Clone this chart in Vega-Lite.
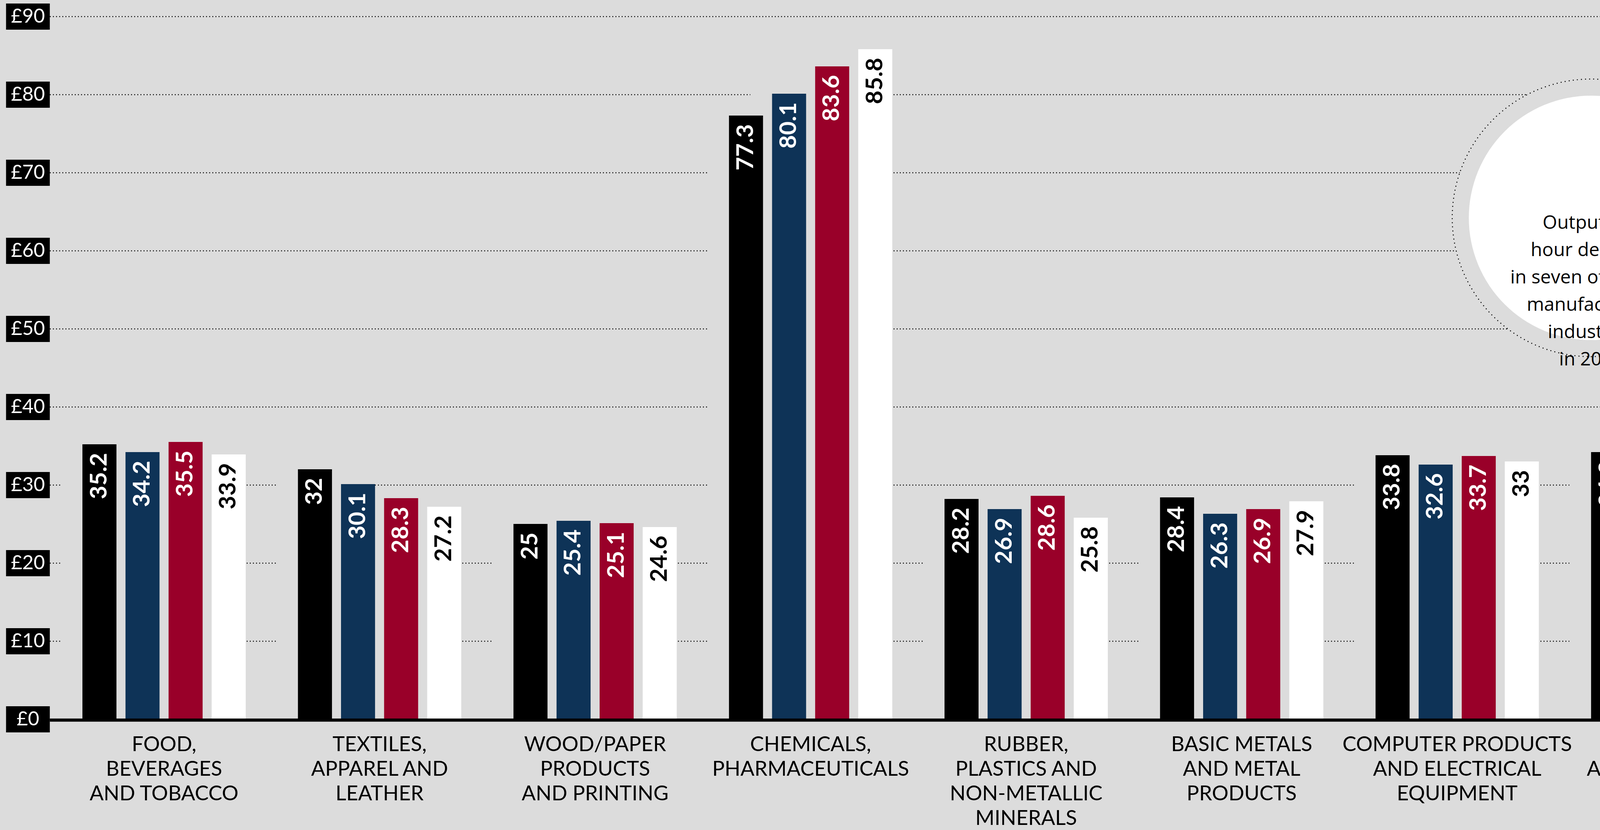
{
  "$schema": "https://vega.github.io/schema/vega-lite/v6.json",
  "width": 5579,
  "height": 1800,
  "autosize": {"type": "none"},
  "padding": {"left": 127, "top": 42, "right": 0, "bottom": 284},
  "background": "#dcdcdc",
  "config": {"view": {"stroke": null}, "font": "Lato"},
  "data": {
    "values": [
      {"cat": "FOOD,|BEVERAGES|AND TOBACCO", "year": "2012", "value": 35.2},
      {"cat": "FOOD,|BEVERAGES|AND TOBACCO", "year": "2013", "value": 34.2},
      {"cat": "FOOD,|BEVERAGES|AND TOBACCO", "year": "2014", "value": 35.5},
      {"cat": "FOOD,|BEVERAGES|AND TOBACCO", "year": "2015", "value": 33.9},
      {"cat": "TEXTILES,|APPAREL AND|LEATHER", "year": "2012", "value": 32},
      {"cat": "TEXTILES,|APPAREL AND|LEATHER", "year": "2013", "value": 30.1},
      {"cat": "TEXTILES,|APPAREL AND|LEATHER", "year": "2014", "value": 28.3},
      {"cat": "TEXTILES,|APPAREL AND|LEATHER", "year": "2015", "value": 27.2},
      {"cat": "WOOD/PAPER|PRODUCTS|AND PRINTING", "year": "2012", "value": 25},
      {"cat": "WOOD/PAPER|PRODUCTS|AND PRINTING", "year": "2013", "value": 25.4},
      {"cat": "WOOD/PAPER|PRODUCTS|AND PRINTING", "year": "2014", "value": 25.1},
      {"cat": "WOOD/PAPER|PRODUCTS|AND PRINTING", "year": "2015", "value": 24.6},
      {"cat": "CHEMICALS,|PHARMACEUTICALS", "year": "2012", "value": 77.3},
      {"cat": "CHEMICALS,|PHARMACEUTICALS", "year": "2013", "value": 80.1},
      {"cat": "CHEMICALS,|PHARMACEUTICALS", "year": "2014", "value": 83.6},
      {"cat": "CHEMICALS,|PHARMACEUTICALS", "year": "2015", "value": 85.8},
      {"cat": "RUBBER,|PLASTICS AND|NON-METALLIC|MINERALS", "year": "2012", "value": 28.2},
      {"cat": "RUBBER,|PLASTICS AND|NON-METALLIC|MINERALS", "year": "2013", "value": 26.9},
      {"cat": "RUBBER,|PLASTICS AND|NON-METALLIC|MINERALS", "year": "2014", "value": 28.6},
      {"cat": "RUBBER,|PLASTICS AND|NON-METALLIC|MINERALS", "year": "2015", "value": 25.8},
      {"cat": "BASIC METALS|AND METAL|PRODUCTS", "year": "2012", "value": 28.4},
      {"cat": "BASIC METALS|AND METAL|PRODUCTS", "year": "2013", "value": 26.3},
      {"cat": "BASIC METALS|AND METAL|PRODUCTS", "year": "2014", "value": 26.9},
      {"cat": "BASIC METALS|AND METAL|PRODUCTS", "year": "2015", "value": 27.9},
      {"cat": "COMPUTER PRODUCTS|AND ELECTRICAL|EQUIPMENT", "year": "2012", "value": 33.8},
      {"cat": "COMPUTER PRODUCTS|AND ELECTRICAL|EQUIPMENT", "year": "2013", "value": 32.6},
      {"cat": "COMPUTER PRODUCTS|AND ELECTRICAL|EQUIPMENT", "year": "2014", "value": 33.7},
      {"cat": "COMPUTER PRODUCTS|AND ELECTRICAL|EQUIPMENT", "year": "2015", "value": 33},
      {"cat": "MACHINERY|AND EQUIPMENT", "year": "2012", "value": 34.2},
      {"cat": "MACHINERY|AND EQUIPMENT", "year": "2013", "value": 29.9},
      {"cat": "MACHINERY|AND EQUIPMENT", "year": "2014", "value": 32.7},
      {"cat": "MACHINERY|AND EQUIPMENT", "year": "2015", "value": 29.2},
      {"cat": "TRANSPORT|EQUIPMENT", "year": "2012", "value": 38.2},
      {"cat": "TRANSPORT|EQUIPMENT", "year": "2013", "value": 40.7},
      {"cat": "TRANSPORT|EQUIPMENT", "year": "2014", "value": 40.4},
      {"cat": "TRANSPORT|EQUIPMENT", "year": "2015", "value": 40.7},
      {"cat": "COKE AND REFINED|PETROLEUM, OTHER|MANUFACTURING", "year": "2012", "value": 27.8},
      {"cat": "COKE AND REFINED|PETROLEUM, OTHER|MANUFACTURING", "year": "2013", "value": 29},
      {"cat": "COKE AND REFINED|PETROLEUM, OTHER|MANUFACTURING", "year": "2014", "value": 29.8},
      {"cat": "COKE AND REFINED|PETROLEUM, OTHER|MANUFACTURING", "year": "2015", "value": 29.5}
    ]
  },
  "encoding": {
    "x": {
      "field": "cat",
      "type": "nominal",
      "scale": {
        "domain": [
          "FOOD,|BEVERAGES|AND TOBACCO",
          "TEXTILES,|APPAREL AND|LEATHER",
          "WOOD/PAPER|PRODUCTS|AND PRINTING",
          "CHEMICALS,|PHARMACEUTICALS",
          "RUBBER,|PLASTICS AND|NON-METALLIC|MINERALS",
          "BASIC METALS|AND METAL|PRODUCTS",
          "COMPUTER PRODUCTS|AND ELECTRICAL|EQUIPMENT",
          "MACHINERY|AND EQUIPMENT",
          "TRANSPORT|EQUIPMENT",
          "COKE AND REFINED|PETROLEUM, OTHER|MANUFACTURING"
        ],
        "paddingInner": 0.2424,
        "paddingOuter": 0.177,
        "align": 0.43
      },
      "axis": {
        "title": null,
        "labelExpr": "split(datum.value, '|')",
        "labelFont": "Lato",
        "labelFontSize": 53,
        "labelLineHeight": 63,
        "labelColor": "#000",
        "labelPadding": 37,
        "labelAngle": 0,
        "labelLimit": 0,
        "labelOverlap": false,
        "ticks": false,
        "domainColor": "#000",
        "domainWidth": 8,
        "offset": 2,
        "zindex": 1,
        "grid": false
      }
    },
    "y": {
      "field": "value",
      "type": "quantitative",
      "scale": {"domain": [0, 90], "nice": false},
      "axis": {
        "title": null,
        "values": [0, 10, 20, 30, 40, 50, 60, 70, 80, 90],
        "domain": false,
        "ticks": true,
        "tickSize": 112,
        "tickWidth": 67,
        "tickColor": "#000",
        "labelColor": "#fff",
        "labelFont": "Lato",
        "labelFontSize": 50,
        "labelAlign": "center",
        "labelBaseline": "middle",
        "labelPadding": -56,
        "labelExpr": "'£' + datum.value",
        "labelOverlap": false,
        "labelBound": false,
        "labelFlush": false,
        "grid": true,
        "gridColor": "#000",
        "gridDash": [2.5, 5.5],
        "gridWidth": 2.5
      }
    }
  },
  "layer": [
    {
      "mark": {"type": "bar", "color": "#dcdcdc", "width": {"band": 1.266}},
      "encoding": {
        "xOffset": {"field": "year", "type": "nominal", "scale": {"domain": ["2012", "2013", "2014", "2015"], "paddingInner": 0.21, "paddingOuter": 0}}
      }
    },
    {
      "mark": {"type": "bar"},
      "encoding": {
        "xOffset": {"field": "year", "type": "nominal"},
        "color": {
          "field": "year",
          "type": "nominal",
          "scale": {"domain": ["2012", "2013", "2014", "2015"], "range": ["#000000", "#0e3357", "#990029", "#ffffff"]},
          "legend": null
        }
      }
    },
    {
      "mark": {"type": "text", "angle": 270, "align": "right", "baseline": "middle", "dx": -22, "font": "Lato", "fontSize": 60, "fontWeight": "bold"},
      "encoding": {
        "xOffset": {"field": "year", "type": "nominal"},
        "text": {"field": "value", "type": "nominal"},
        "color": {"condition": {"test": "datum.year == '2015'", "value": "#000000"}, "value": "#ffffff"}
      }
    },
    {
      "data": {"values": [{"cat": "MACHINERY|AND EQUIPMENT", "ay": 64.2}]},
      "mark": {"type": "point", "shape": "circle", "size": 505521, "fill": "#dcdcdc", "fillOpacity": 1, "opacity": 1, "stroke": "#000", "strokeWidth": 2.5, "strokeDash": [2.5, 8]},
      "encoding": {
        "x": {"field": "cat", "type": "nominal", "bandPosition": 0},
        "y": {"field": "ay", "type": "quantitative", "title": null}
      }
    },
    {
      "data": {"values": [{"cat": "MACHINERY|AND EQUIPMENT", "ay": 64.2}]},
      "mark": {"type": "point", "shape": "circle", "size": 391876, "fill": "#ffffff", "fillOpacity": 1, "opacity": 1, "strokeWidth": 0},
      "encoding": {
        "x": {"field": "cat", "type": "nominal", "bandPosition": 0},
        "y": {"field": "ay", "type": "quantitative", "title": null}
      }
    },
    {
      "data": {"values": [{"cat": "MACHINERY|AND EQUIPMENT", "ay": 63.5, "note": "Output per\nhour declined\nin seven of the ten\nmanufacturing\nindustries\nin 2015"}]},
      "mark": {"type": "text", "align": "center", "baseline": "middle", "lineBreak": "\n", "font": "Open Sans", "fontSize": 48, "lineHeight": 70, "color": "#000"},
      "encoding": {
        "x": {"field": "cat", "type": "nominal", "bandPosition": 0},
        "y": {"field": "ay", "type": "quantitative", "title": null},
        "text": {"field": "note", "type": "nominal"}
      }
    }
  ]
}
